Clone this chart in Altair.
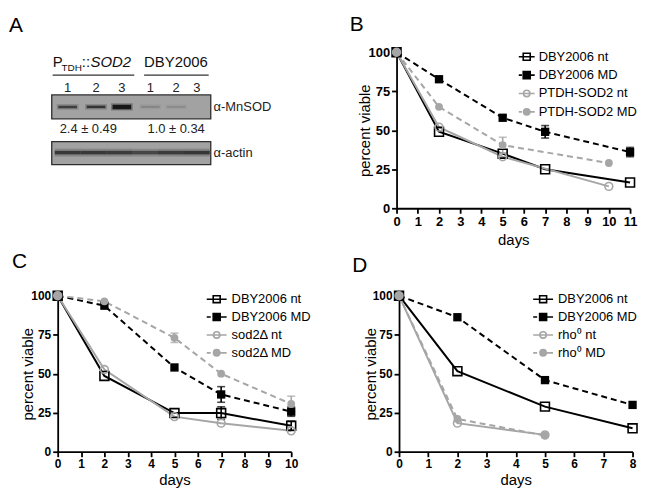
import altair as alt
import pandas as pd

FONT = "Liberation Sans"
GRAY = "#a6a6a6"

# ------------------------------------------------------------------ data
# Panel A: western blot, lanes 1-3 = P_TDH::SOD2, lanes 4-6 = DBY2006
lane_labels = ["1", "2", "3", "1", "2", "3"]
lane_pos = [1.0, 2.1, 3.1, 4.2, 5.2, 6.0]
mnsod_intensity = [0.62, 0.7, 0.95, 0.16, 0.12, 0.0]
mnsod_thickness = [2.5, 2.5, 4.5, 2, 2, 0]
actin_lane = [1, 2, 3, 4, 5, 6]
actin_intensity = [0.66, 0.66, 0.64, 0.56, 0.64, 0.68]
quant_text = ["2.4 ± 0.49", "1.0 ± 0.34"]
quant_lane = [1.8, 5.2]
antibody_text = ["α-MnSOD", "α-actin"]

# Panel B
B_names = ["DBY2006 nt", "DBY2006 MD", "PTDH-SOD2 nt", "PTDH-SOD2 MD"]
B_days = [[0, 2, 5, 7, 11], [0, 2, 5, 7, 11], [0, 2, 5, 10], [0, 2, 5, 10]]
B_vals = [[100, 49, 35, 25, 16.5], [100, 82.7, 58, 49, 36],
          [100, 52, 33, 14], [100, 65, 40.5, 29]]
B_errs = [[0, 0, 0, 0, 0], [0, 0, 0, 4, 3], [0, 0, 0, 0], [0, 0, 5, 0]]

# Panel C
C_names = ["DBY2006 nt", "DBY2006 MD", "sod2Δ nt", "sod2Δ MD"]
C_days = [[0, 2, 5, 7, 10]] * 4
C_vals = [[100, 48.6, 24.8, 24.8, 16.6], [100, 93.6, 54, 36.7, 25.7],
          [100, 52.7, 22.5, 18.3, 13.4], [100, 96.4, 73, 50, 30.6]]
C_errs = [[0, 0, 0, 4, 3], [0, 0, 0, 5, 3], [0, 0, 0, 0, 0], [0, 0, 3, 0, 5]]

# Panel D
D_names = ["DBY2006 nt", "DBY2006 MD", "rho⁰ nt", "rho⁰ MD"]
D_days = [[0, 2, 5, 8], [0, 2, 5, 8], [0, 2, 5], [0, 2, 5]]
D_vals = [[100, 51.6, 28.9, 15], [100, 86.2, 45.9, 30], [100, 18.3, 10.8], [100, 21, 10.4]]
D_errs = [[0, 0, 0, 0], [0, 0, 0, 0], [0, 0, 0], [0, 0, 0]]

IND = dict(shape="independent", stroke="independent", fill="independent")


def title(letter, dx, offset):
    return alt.TitleParams(letter, anchor="start", frame="group", dx=dx, offset=offset,
                           fontSize=21, font=FONT, fontWeight="normal", color="black")


# ------------------------------------------------------------------ panel A
def panel_a():
    AW, AH = 250, 120
    x0 = 1 - 10 / 26
    xs = alt.Scale(domain=[x0, x0 + AW / 26], nice=False, zero=False)
    ys = alt.Scale(domain=[0, AH], reverse=True, nice=False, zero=False)

    def X(f="x"):
        return alt.X(f + ":Q", scale=xs, axis=None)

    def Y(f="y"):
        return alt.Y(f + ":Q", scale=ys, axis=None)

    boxes = pd.DataFrame({"x": [0.385, 0.385], "x2": [6.54, 6.54], "y": [43, 90], "y2": [67, 113]})
    box = alt.Chart(boxes).mark_rect(fill="#a2a2a2", stroke="#2e2e2e", strokeWidth=1.3).encode(
        x=X(), x2="x2:Q", y=Y(), y2="y2:Q")

    mn = pd.DataFrame({"lane": lane_pos, "a": mnsod_intensity, "t": mnsod_thickness})
    mn_base = alt.Chart(mn).transform_filter("datum.t > 0")
    mn_blur = mn_base.transform_calculate(
        x="datum.lane - 0.42", x2="datum.lane + 0.42",
        y="55 - datum.t / 2 - 1.5", y2="55 + datum.t / 2 + 1.5", o="datum.a * 0.3"
    ).mark_rect(color="#111").encode(x=X(), x2="x2:Q", y=Y(), y2="y2:Q",
                                      opacity=alt.Opacity("o:Q", scale=None))
    mn_core = mn_base.transform_calculate(
        x="datum.lane - 0.36", x2="datum.lane + 0.36",
        y="55 - datum.t / 2", y2="55 + datum.t / 2"
    ).mark_rect(color="#111").encode(x=X(), x2="x2:Q", y=Y(), y2="y2:Q",
                                      opacity=alt.Opacity("a:Q", scale=None))

    ac = pd.DataFrame({"lane": actin_lane, "a": actin_intensity})
    ac_blur = alt.Chart(ac).transform_calculate(
        x="datum.lane - 0.5", x2="datum.lane + 0.5", y="97", y2="105", o="datum.a * 0.3"
    ).mark_rect(color="#111").encode(x=X(), x2="x2:Q", y=Y(), y2="y2:Q",
                                      opacity=alt.Opacity("o:Q", scale=None))
    ac_core = alt.Chart(ac).transform_calculate(
        x="datum.lane - 0.5", x2="datum.lane + 0.5", y="99.2", y2="102.8"
    ).mark_rect(color="#111").encode(x=X(), x2="x2:Q", y=Y(), y2="y2:Q",
                                      opacity=alt.Opacity("a:Q", scale=None))

    lines = pd.DataFrame({"x": [0.42, 3.96], "x2": [3.58, 6.46], "y": [23, 23]})
    under = alt.Chart(lines).mark_rule(color="#333", strokeWidth=1.2).encode(x=X(), x2="x2:Q", y=Y())

    nums = pd.DataFrame({"x": lane_pos, "t": lane_labels, "y": [36] * 6})
    num_t = alt.Chart(nums).mark_text(font=FONT, fontSize=13, color="#222", baseline="middle",
                                      align="center").encode(x=X(), y=Y(), text="t:N")

    head = pd.DataFrame({"x": [0.423, 1.55, 3.96], "y": [15, 15, 15], "t": ["P", "::", "DBY2006"]})
    head_t = alt.Chart(head).mark_text(font=FONT, fontSize=15, color="#111", align="left",
                                       baseline="alphabetic").encode(x=X(), y=Y(), text="t:N")
    sub = pd.DataFrame({"x": [0.76], "y": [18.5], "t": ["TDH"]})
    sub_t = alt.Chart(sub).mark_text(font=FONT, fontSize=10, color="#111", align="left",
                                     baseline="alphabetic").encode(x=X(), y=Y(), text="t:N")
    ital = pd.DataFrame({"x": [1.885], "y": [15], "t": ["SOD2"]})
    ital_t = alt.Chart(ital).mark_text(font=FONT, fontSize=15, fontStyle="italic", color="#111",
                                       align="left", baseline="alphabetic").encode(x=X(), y=Y(), text="t:N")

    q = pd.DataFrame({"x": quant_lane, "y": [77, 77], "t": quant_text})
    q_t = alt.Chart(q).mark_text(font=FONT, fontSize=13, color="#222", align="center",
                                 baseline="middle").encode(x=X(), y=Y(), text="t:N")
    ab = pd.DataFrame({"x": [6.65, 6.65], "y": [55, 101], "t": antibody_text})
    ab_t = alt.Chart(ab).mark_text(font=FONT, fontSize=13, color="#222", align="left",
                                   baseline="middle").encode(x=X(), y=Y(), text="t:N")

    return alt.layer(box, mn_blur, mn_core, ac_blur, ac_core, under, num_t, head_t, sub_t,
                     ital_t, q_t, ab_t).properties(width=AW, height=AH, title=title("A", -49, 16.6))


# ------------------------------------------------------------------ survival panels
def sym_paths(sq, r):
    square = f"M{-sq},{-sq}H{sq}V{sq}H{-sq}Z"
    circle = f"M{r},0A{r},{r},0,1,1,{-r},0A{r},{r},0,1,1,{r},0Z"
    return ["M-1,0H1" + square,
            f"M-1,0H-0.6M{sq},0H1" + square,
            "M-1,0H1" + circle,
            f"M-1,0H-0.6M{r},0H1" + circle]


def survival(letter, names, days, vals, errs, xmax, lab_size, leg_x, leg_y, leg_font,
             sym_w, sq, r, row_pad, lab_off, t_off, x_tpad, y_tpad, dx):
    ax_common = dict(domainColor="black", domainWidth=1.8, tickColor="black", tickWidth=1.8,
                     tickSize=5, labelFont=FONT, labelFontSize=lab_size, labelFontWeight="bold",
                     labelColor="black", labelPadding=2, labelFlush=False, labelOverlap=False,
                     titleFont=FONT, titleFontSize=15, titleFontWeight="normal",
                     titleColor="black", grid=False)
    xsc = alt.Scale(domain=[0, xmax], nice=False, zero=True)
    ysc = alt.Scale(domain=[0, 100], nice=False, zero=True)
    xax = alt.Axis(values=list(range(xmax + 1)), format="d", title="days", titlePadding=x_tpad,
                   **ax_common)
    yax = alt.Axis(values=[0, 25, 50, 75, 100], format="d", title="percent viable",
                   titlePadding=y_tpad, **ax_common)

    def X():
        return alt.X("day:Q", scale=xsc, axis=xax)

    def Y(f="v"):
        return alt.Y(f + ":Q", scale=ysc, axis=yax)

    styles = [
        dict(color="black", dash=None, shape="square", filled=False, size=80),
        dict(color="black", dash=[6, 4], shape="square", filled=True, size=70),
        dict(color=GRAY, dash=None, shape="circle", filled=False, size=62),
        dict(color=GRAY, dash=[6, 4], shape="circle", filled=True, size=62),
    ]
    frames = []
    for d, v, e in zip(days, vals, errs):
        df = pd.DataFrame({"day": d, "v": v, "e": e})
        df["lo"] = df["v"] - df["e"]
        df["hi"] = df["v"] + df["e"]
        frames.append(df)

    line_layers, err_layers, pt_layers = [], [], []
    for df, st in zip(frames, styles):
        lk = dict(color=st["color"], strokeWidth=2)
        if st["dash"]:
            lk["strokeDash"] = st["dash"]
        line_layers.append(alt.Chart(df).mark_line(**lk).encode(x=X(), y=Y()))
        edf = df[df["e"] > 0]
        if len(edf):
            base = alt.Chart(edf)
            err_layers.append(base.mark_rule(color=st["color"], strokeWidth=1.6).encode(
                x=X(), y=Y("lo"), y2="hi:Q"))
            err_layers.append(base.mark_tick(orient="horizontal", color=st["color"], size=8,
                                             thickness=1.6).encode(x=X(), y=Y("lo")))
            err_layers.append(base.mark_tick(orient="horizontal", color=st["color"], size=8,
                                             thickness=1.6).encode(x=X(), y=Y("hi")))
        if st["filled"]:
            pk = dict(shape=st["shape"], size=st["size"], filled=True, color=st["color"], opacity=1)
        else:
            pk = dict(shape=st["shape"], size=st["size"], filled=False, color=st["color"],
                      strokeWidth=1.6, opacity=1)
        pt_layers.append(alt.Chart(df).mark_point(**pk).encode(x=X(), y=Y()))

    leg = alt.Legend(orient="none", legendX=leg_x, legendY=leg_y, title=None,
                     symbolSize=sym_w * sym_w, symbolStrokeWidth=1.6, labelFont=FONT,
                     labelFontSize=leg_font, labelColor="black", rowPadding=row_pad,
                     labelOffset=lab_off, padding=0, symbolOpacity=1)
    ldf = pd.DataFrame({"series": names, "day": [0] * 4, "v": [0] * 4})
    fills = ["transparent", "black", "transparent", GRAY]
    strokes = ["black", "black", GRAY, GRAY]
    legend_layer = alt.Chart(ldf).transform_filter("false").mark_point(
        filled=True, opacity=1, strokeWidth=1.6).encode(
        x=X(), y=Y(),
        shape=alt.Shape("series:N", scale=alt.Scale(domain=names, range=sym_paths(sq, r)), legend=leg),
        stroke=alt.Stroke("series:N", scale=alt.Scale(domain=names, range=strokes), legend=leg),
        fill=alt.Fill("series:N", scale=alt.Scale(domain=names, range=fills), legend=leg),
    )
    return alt.layer(*line_layers, *err_layers, *pt_layers, legend_layer).properties(
        width=235, height=157, title=title(letter, dx, t_off))


A = panel_a()
B = survival("B", B_names, B_days, B_vals, B_errs, 11, 13, 122, -4.5, 13, 16, 0.44, 0.4, 2.5, 3,
             10, 4, -4, -47)
C = survival("C", C_names, C_days, C_vals, C_errs, 10, 12, 149, -7.5, 13, 20, 0.35, 0.32, -0.5, 4,
             16, 3, -4.5, -46)
D = survival("D", D_names, D_days, D_vals, D_errs, 8, 12, 134, -7.5, 13, 20, 0.35, 0.32, -0.5, 4,
             12, 3, -6, -47)

row1 = alt.hconcat(A, B, spacing=44).resolve_scale(**IND).resolve_legend(**IND)
row2 = alt.hconcat(C, D, spacing=41.5).resolve_scale(**IND).resolve_legend(**IND)
chart = alt.vconcat(row1, row2, spacing=4).resolve_scale(**IND).resolve_legend(**IND).properties(
    padding={"left": 1, "top": 4, "right": 0, "bottom": 0}
).configure_view(stroke=None)

chart.save("out.html", embed_options={"renderer": "svg", "actions": False})
